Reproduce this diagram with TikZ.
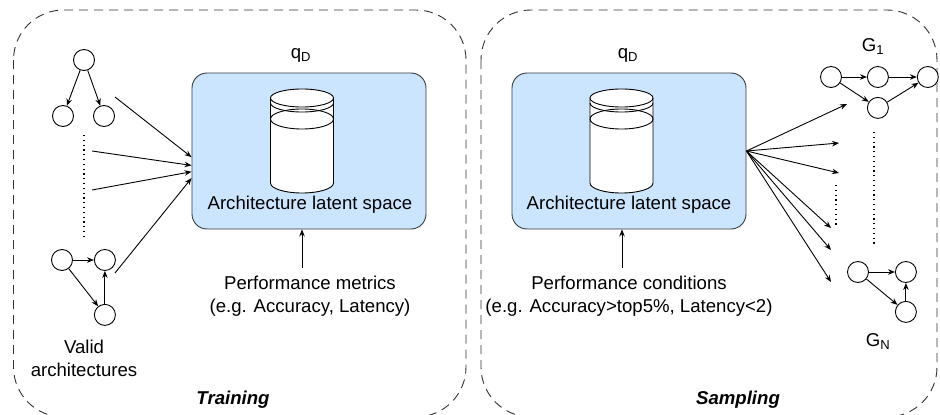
\documentclass[tikz,border=0pt]{standalone}
\usepackage{fontspec}
\setmainfont{Liberation Sans}
\usetikzlibrary{arrows.meta}
\usetikzlibrary{positioning}

\definecolor{latentfill}{HTML}{CCE5FF}
\definecolor{latentline}{HTML}{36393D}

\begin{document}
\begin{tikzpicture}[x=1pt,y=-1pt,line width=0.9pt,font=\fontsize{18.6}{23}\selectfont,>={Stealth[length=7pt,width=5.5pt]},
    vertex/.style={circle,draw,fill=white,minimum size=21pt,inner sep=0pt},
    latent/.style={draw=latentline,fill=latentfill,rounded corners=15pt,minimum width=234pt,minimum height=156pt},
    panel/.style={draw=black!80,dash pattern=on 9pt off 6pt,rounded corners=50pt},
    dots/.style={line width=1.3pt,dash pattern=on 1.2pt off 3.6pt},
    phase/.style={font=\fontsize{18.6}{23}\selectfont\bfseries\itshape}]
    \useasboundingbox (0,0) rectangle (940,415);

    % the two phases
    \draw[panel] (13.5,10) rectangle (466,417);
    \draw[panel] (481,10) rectangle (937,417);
    \node[phase] (train) at (233,400) {Training};
    \node[phase] (sample) at (738,400) {Sampling};

    % latent spaces
    \node[latent] (lat_t) at (309,151) {};
    \node[latent] (lat_s) at (629,151) {};
    \node (q_t) [above=14pt of lat_t.north, xshift=-8pt, anchor=base] {q\textsubscript{D}};
    \node (q_s) [above=14pt of lat_s.north, xshift=-1pt, anchor=base] {q\textsubscript{D}};
    \foreach \cx in {302,621.5} {
        \filldraw[fill=white] (\cx-31.5,98) arc[start angle=180,end angle=0,x radius=31.5pt,y radius=9pt]
            -- (\cx+31.5,183) arc[start angle=0,end angle=-180,x radius=31.5pt,y radius=10pt] -- cycle;
        \draw (\cx-31.5,98) arc[start angle=180,end angle=360,x radius=31.5pt,y radius=9pt];
        \draw (\cx-31.5,103) arc[start angle=180,end angle=360,x radius=31.5pt,y radius=9pt];
        \draw (\cx,119) ellipse[x radius=31.5pt,y radius=10pt];
    }
    \node (txt_t) at (310,205) {Architecture latent space};
    \node (txt_s) at (629,205) {Architecture latent space};

    % conditions
    \node[align=center] (perf_t) at (310,296) {Performance metrics\\(e.g. Accuracy, Latency)};
    \node[align=center] (perf_s) at (629,296) {Performance conditions\\(e.g. Accuracy>top5\%, Latency<2)};
    \coordinate (perf_t_top) at (302,268);
    \coordinate (perf_s_top) at (622,268);
    \draw[->] (perf_t_top) -- (perf_t_top |- lat_t.south);
    \draw[->] (perf_s_top) -- (perf_s_top |- lat_s.south);

    % valid architectures
    \node[vertex] (t_0) at (84,60) {};
    \node[vertex] (t_1) at (63,116) {};
    \node[vertex] (t_2) at (104,116) {};
    \node[vertex] (b_0) at (62,260) {};
    \node[vertex] (b_1) [right=21pt of b_0] {};
    \node[vertex] (b_2) [below=33pt of b_1] {};
    \path[->] (t_0) edge (t_1)
                    edge (t_2)
              (b_0) edge (b_1)
                    edge (b_2)
              (b_2) edge (b_1);
    \draw[dots] (84,135) -- (84,237);
    \node[align=center] (valid) at (84,358) {Valid\\architectures};

    \coordinate (in_1) at (115,97);
    \coordinate (in_2) at (92,151);
    \coordinate (in_3) at (92,190);
    \coordinate (in_4) at (115,273);
    \draw[->] (in_1) -- (lat_t.183);
    \draw[->] (in_2) -- (lat_t.187);
    \draw[->] (in_3) -- (lat_t.190);
    \draw[->] (in_4) -- (lat_t.193);

    % sampled graphs
    \node[vertex] (g_0) at (831,77) {};
    \node[vertex] (g_1) [right=25pt of g_0] {};
    \node[vertex] (g_2) [right=28pt of g_1] {};
    \node[vertex] (g_3) [below=9pt of g_1] {};
    \path[->] (g_0) edge (g_1)
                    edge (g_3)
              (g_1) edge (g_2)
              (g_3) edge (g_2);
    \node (g_lbl) at (873,47) {G\textsubscript{1}};

    \node[vertex] (n_0) at (858,272) {};
    \node[vertex] (n_1) [right=26pt of n_0] {};
    \node[vertex] (n_2) [below=18pt of n_1] {};
    \path[->] (n_0) edge (n_1)
                    edge (n_2)
              (n_2) edge (n_1);
    \node (n_lbl) at (878,342) {G\textsubscript{N}};

    \draw[dots] (874,132) -- (874,246);
    \draw[dots] (836,185) -- (836,226);

    \coordinate (out_1) at (847,104);
    \coordinate (out_2) at (839,143);
    \coordinate (out_3) at (839,173);
    \coordinate (out_4) at (831,228);
    \coordinate (out_5) at (831,250);
    \coordinate (out_6) at (831,282);
    \foreach \k in {1,...,6}
        \draw[->] (lat_s.east) -- (out_\k);
\end{tikzpicture}
\end{document}
